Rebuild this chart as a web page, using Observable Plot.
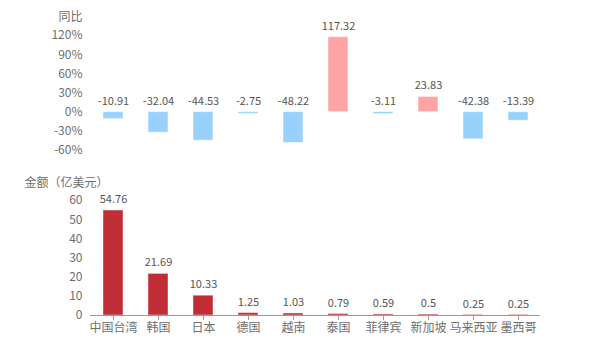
<!DOCTYPE html>
<html>
<head>
<meta charset="utf-8">
<script src="https://cdn.jsdelivr.net/npm/d3@7"></script>
<script src="https://cdn.jsdelivr.net/npm/@observablehq/plot@0.6"></script>
<style>
  html, body { margin: 0; padding: 0; background: #fff; }
  #wrap { position: relative; width: 600px; height: 350px; font-family: "Noto Sans CJK SC", "Noto Sans", sans-serif; }
  #top, #bottom { position: absolute; left: 0; }
  #top { top: 0; }
  #bottom { top: 160px; }
</style>
</head>
<body>
<div id="wrap"><div id="top"></div><div id="bottom"></div></div>
<script>
const categories = ["中国台湾", "韩国", "日本", "德国", "越南", "泰国", "菲律宾", "新加坡", "马来西亚", "墨西哥"];
const yoy = [-10.91, -32.04, -44.53, -2.75, -48.22, 117.32, -3.11, 23.83, -42.38, -13.39];
const amount = [54.76, 21.69, 10.33, 1.25, 1.03, 0.79, 0.59, 0.5, 0.25, 0.25];
const yoyTicks = [-60, -30, 0, 30, 60, 90, 120];
const amountTicks = [0, 10, 20, 30, 40, 50, 60];
const yoyTitle = "同比";
const amountTitle = "金额（亿美元）";

const font = '"Noto Sans CJK SC", "Noto Sans", sans-serif';
const topData = categories.map((c, i) => ({cat: c, v: yoy[i]}));
const botData = categories.map((c, i) => ({cat: c, v: amount[i]}));
const xOpts = {domain: categories, paddingInner: 0.556, paddingOuter: 0.278};

const topPlot = Plot.plot({
  width: 600, height: 160,
  marginLeft: 90, marginRight: 60, marginTop: 35, marginBottom: 10,
  style: {fontFamily: font, fontSize: "12px", color: "#666", background: "transparent"},
  x: {...xOpts, axis: null},
  y: {domain: [-60, 120]},
  marks: [
    Plot.axisY({ticks: yoyTicks, tickFormat: d => d + "%", tickSize: 0, tickPadding: 8, label: null, fill: "#6e6e6e", fontSize: 12}),
    Plot.barY(topData, {x: "cat", y: "v", fill: d => d.v >= 0 ? "#ffa3a5" : "#97d1fc", stroke: "#fff", strokeOpacity: 0.5, strokeWidth: 1}),
    Plot.text(topData, {x: "cat", y: d => Math.max(0, d.v), text: d => String(d.v), dy: -11, fill: "#555", fontSize: 11}),
    Plot.text([yoyTitle], {frameAnchor: "top-left", lineAnchor: "middle", dx: -8, dy: -18, textAnchor: "end", fill: "#6e6e6e", fontSize: 12})
  ]
});
document.getElementById("top").appendChild(topPlot);

const botPlot = Plot.plot({
  width: 600, height: 190,
  marginLeft: 90, marginRight: 60, marginTop: 40, marginBottom: 35,
  style: {fontFamily: font, fontSize: "12px", color: "#666", background: "transparent"},
  x: {...xOpts},
  y: {domain: [0, 60]},
  marks: [
    Plot.axisY({ticks: amountTicks, tickSize: 0, tickPadding: 8, label: null, fill: "#6e6e6e", fontSize: 12}),
    Plot.barY(botData, {x: "cat", y: "v", fill: "#c12d37", stroke: "#fff", strokeOpacity: 0.4, strokeWidth: 1}),
    Plot.ruleY([0], {stroke: "#999", strokeWidth: 1}),
    Plot.axisX({tickSize: 5, tickPadding: 3, stroke: "#999", label: null, fill: "#6e6e6e", fontSize: 12}),
    Plot.text(botData, {x: "cat", y: "v", text: d => String(d.v), dy: -11, fill: "#555", fontSize: 11}),
    Plot.text([amountTitle], {frameAnchor: "top-left", lineAnchor: "middle", dx: -24, dy: -17, textAnchor: "middle", fill: "#6e6e6e", fontSize: 12})
  ]
});
document.getElementById("bottom").appendChild(botPlot);
</script>
</body>
</html>
